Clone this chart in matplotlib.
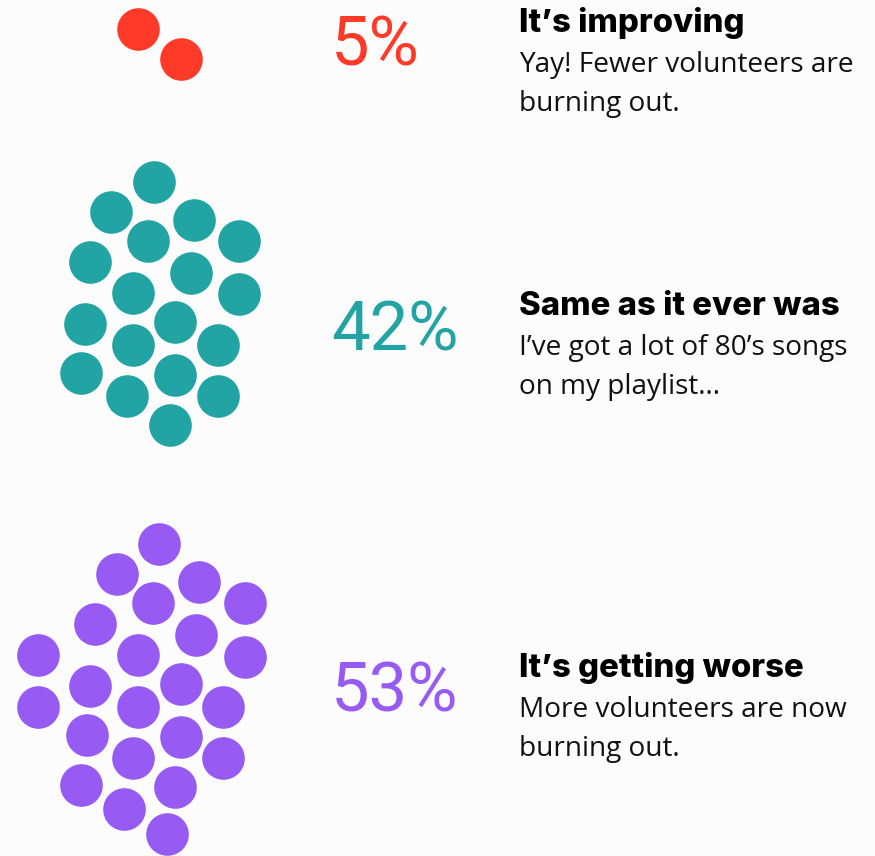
import matplotlib
matplotlib.use("Agg")
import matplotlib.pyplot as plt

# survey answers
labels = ["5%", "42%", "53%"]
titles = ["It\u2019s improving", "Same as it ever was", "It\u2019s getting worse"]
notes = [["Yay! Fewer volunteers are", "burning out."],
         ["I\u2019ve got a lot of 80\u2019s songs", "on my playlist..."],
         ["More volunteers are now", "burning out."]]
colors = ["#FF3A28", "#23A4A4", "#975AF2"]

# dot cluster positions (pixels)
red_x = [138, 181]
red_y = [29, 59]
teal_x = [154, 111, 194, 148, 239, 90, 191, 133, 239, 85, 175, 133, 218, 81, 175, 127, 218, 170]
teal_y = [182, 212, 220, 241, 241, 262, 273, 293, 294, 324, 322, 345, 345, 373, 375, 396, 396, 425]
purple_x = [159, 117, 199, 153, 245, 95, 196, 38, 138, 245, 90, 181, 38, 138, 223,
            87, 181, 133, 223, 81, 175, 124, 167]
purple_y = [544, 574, 582, 603, 603, 624, 635, 655, 655, 657, 686, 684, 707, 707, 707,
            735, 737, 758, 758, 785, 787, 809, 834]

groups = [(red_x, red_y), (teal_x, teal_y), (purple_x, purple_y)]
pct_y = [65, 350, 711]
title_y = [32, 315, 677]

W, H = 875, 856
fig = plt.figure(figsize=(W / 100, H / 100), dpi=100)
fig.patch.set_facecolor("#FCFCFC")
ax = fig.add_axes([0, 0, 1, 1])
ax.set_xlim(0, W)
ax.set_ylim(H, 0)
ax.axis("off")

r = 21.3
s = (2 * r * 72 / 100) ** 2
for (gx, gy), c in zip(groups, colors):
    ax.scatter(gx, gy, s=s, color=c, linewidths=0)

for i in range(3):
    ax.text(331, pct_y[i], labels[i], color=colors[i], fontsize=49.5,
            family="Roboto", fontweight="normal", va="baseline", ha="left")
    ax.text(519, title_y[i], titles[i], color="#000000", fontsize=23.7,
            family="Inter", fontweight="heavy", va="baseline", ha="left")
    for j, line in enumerate(notes[i]):
        ax.text(519, title_y[i] + 40 + 39 * j, line, color="#111111", fontsize=20.2,
                family="Open Sans", va="baseline", ha="left")

fig.savefig("out.png", dpi=100, facecolor=fig.get_facecolor())
